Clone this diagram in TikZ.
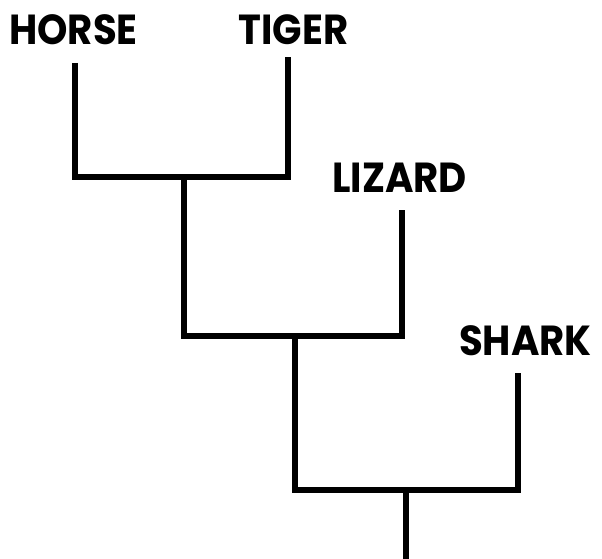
\documentclass[tikz,border=0pt]{standalone}
\usepackage{fontspec}
\setmainfont{Poppins}[FakeStretch=0.92]
\begin{document}
\begin{tikzpicture}[x=1pt,y=-1pt,
  branch/.style={line width=6pt, line join=miter, line cap=butt},
  taxon/.style={font=\fontsize{42}{42}\selectfont\bfseries, inner sep=0pt, anchor=center}]
\useasboundingbox (0,0) rectangle (602,559);
\node[taxon] (horse) at (73.5,30) {HORSE};
\node[taxon] (tiger) at (293.5,30) {TIGER};
\node[taxon] (lizard) at (399.5,177.5) {LIZARD};
\node[taxon] (shark) at (525.5,341) {SHARK};
\coordinate (h) at (75,63);
\coordinate (t) at (288,57);
\coordinate (l) at (402,210);
\coordinate (s) at (518,373);
\coordinate (j1) at (183.5,177);
\coordinate (j2) at (295,336);
\coordinate (j3) at (405.5,490);
\coordinate (root) at (405.5,559);
\draw[branch] (h) |- (j1) -| (t);
\draw[branch] (j1) |- (j2) -| (l);
\draw[branch] (j2) |- (j3) -| (s);
\draw[branch] (j3) -- (root);
\end{tikzpicture}
\end{document}
